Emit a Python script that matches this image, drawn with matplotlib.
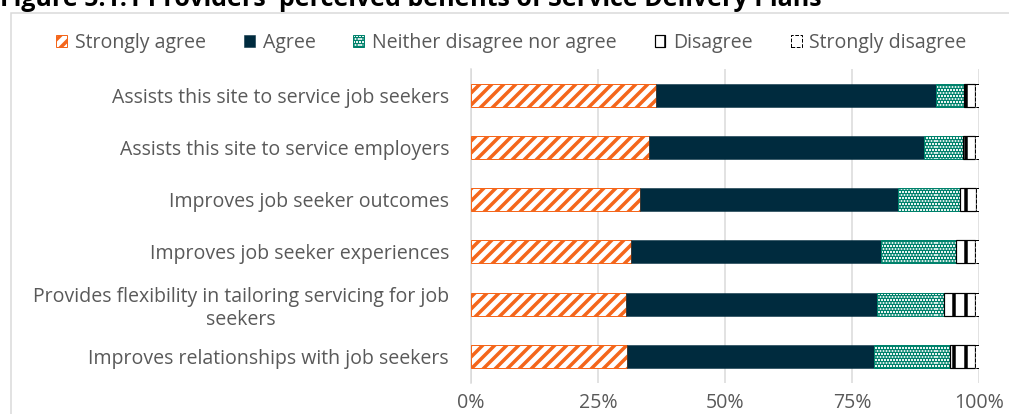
import matplotlib
matplotlib.use("Agg")
import matplotlib.pyplot as plt
from matplotlib.patches import Rectangle
from matplotlib.ticker import PercentFormatter
import numpy as np

plt.rcParams['font.family'] = ['Open Sans', 'DejaVu Sans']

# Survey items, top to bottom
categories = [
    "Assists this site to service job seekers",
    "Assists this site to service employers",
    "Improves job seeker outcomes",
    "Improves job seeker experiences",
    "Provides flexibility in tailoring servicing for job\nseekers",
    "Improves relationships with job seekers",
]

# Share of providers (%) per response
strongly_agree = [36.5, 35.1, 33.2, 31.4, 30.5, 30.7]
agree = [55.0, 54.1, 50.9, 49.4, 49.5, 48.6]
neither = [5.5, 7.6, 12.1, 14.7, 13.2, 15.0]
disagree = [2.3, 2.5, 3.3, 3.8, 6.1, 5.0]
strongly_disagree = [0.7, 0.7, 0.5, 0.7, 0.7, 0.7]

series_labels = ["Strongly agree", "Agree", "Neither disagree nor agree",
                 "Disagree", "Strongly disagree"]
x_ticks = [0, 25, 50, 75, 100]

ORANGE = "#F4661B"
NAVY = "#002B3E"
TEAL = "#00826C"
GREY_TXT = "#595959"
GRID = "#D9D9D9"
FS = 19.5

W, H, DPI = 1009, 414, 72
fig = plt.figure(figsize=(W / DPI, H / DPI), dpi=DPI)
fig.patch.set_facecolor("white")

# chart frame, running off the right and bottom edges
fig.patches.append(Rectangle((10.5 / W, -0.1), 1.2, 1.1 - 13 / H,
                             transform=fig.transFigure, facecolor="none",
                             edgecolor=GRID, linewidth=1.5, zorder=0))

fig.text(0.0, 1 - 6 / H,
         "Figure 5.1.1 Providers' perceived benefits of Service Delivery Plans",
         fontsize=25, fontweight="bold", color="black", ha="left", va="baseline")

ax = fig.add_axes([471 / W, 1 - 382.5 / H, (979 - 471) / W, (382.5 - 69) / H])

y = np.arange(len(categories))
bar_h = 0.44

styles = [
    dict(facecolor="white", edgecolor=ORANGE, hatch="//", linewidth=1.0),
    dict(facecolor=NAVY, edgecolor=NAVY, linewidth=0.5),
    dict(facecolor="white", edgecolor=TEAL, hatch="....", linewidth=1.0),
    dict(facecolor="white", edgecolor="black", hatch="|", linewidth=1.2),
    dict(facecolor="white", edgecolor="black", linestyle="--", linewidth=1.0),
]
series = [strongly_agree, agree, neither, disagree, strongly_disagree]

plt.rcParams['hatch.linewidth'] = 3.5
left = np.zeros(len(categories))
handles = []
for vals, st, lab in zip(series, styles, series_labels):
    bc = ax.barh(y, vals, left=left, height=bar_h, label=lab, zorder=3, **st)
    handles.append(bc)
    left = left + np.array(vals)

ax.set_xlim(0, 100)
ax.set_ylim(len(categories) - 0.5, -0.5)
ax.set_xticks(x_ticks)
ax.xaxis.set_major_formatter(PercentFormatter(decimals=0))
ax.set_yticks(y)
ax.set_yticklabels(categories)
for lbl in ax.get_yticklabels():
    lbl.set_multialignment("center")

ax.tick_params(axis="y", length=0, pad=22, labelsize=FS, labelcolor=GREY_TXT)
ax.tick_params(axis="x", length=0, pad=11, labelsize=FS, labelcolor=GREY_TXT)

ax.grid(axis="x", color=GRID, linewidth=1.5, zorder=0)
ax.set_axisbelow(True)
for side in ("top", "right", "bottom"):
    ax.spines[side].set_visible(False)
ax.spines["left"].set_color(GRID)
ax.spines["left"].set_linewidth(1.5)

fig.legend(handles=handles, labels=series_labels, loc="center",
           bbox_to_anchor=(511.5 / W, 1 - 43 / H), ncol=5, frameon=False,
           fontsize=FS, labelcolor=GREY_TXT, handlelength=0.55,
           handleheight=0.55, handletextpad=0.4, columnspacing=1.95)

fig.savefig("out.png", dpi=DPI, facecolor="white")
